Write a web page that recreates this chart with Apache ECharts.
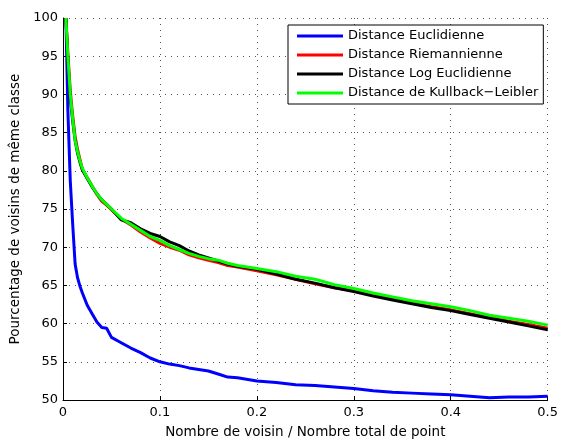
<!DOCTYPE html>
<html>
<head>
<meta charset="utf-8">
<script src="https://cdn.jsdelivr.net/npm/echarts@6/dist/echarts.min.js"></script>
<style>
  html, body { margin: 0; padding: 0; background: #fff; }
  #chart { width: 561px; height: 444px; }
</style>
</head>
<body>
<div id="chart"></div>
<script>
// fraction of neighbours (x) shared by all curves
var ratio = [0.003, 0.005, 0.0075, 0.01, 0.0125, 0.015, 0.0175, 0.02, 0.025, 0.03,
  0.035, 0.04, 0.045, 0.05, 0.06, 0.07, 0.08, 0.09, 0.1, 0.11,
  0.12, 0.13, 0.14, 0.15, 0.16, 0.17, 0.18, 0.2, 0.22, 0.24,
  0.26, 0.28, 0.3, 0.32, 0.34, 0.36, 0.38, 0.4, 0.42, 0.44,
  0.46, 0.48, 0.5];

var euclid = [100, 88, 78.7, 73, 67.8, 66, 64.9, 64.0, 62.4, 61.3,
  60.2, 59.5, 59.4, 58.2, 57.5, 56.8, 56.2, 55.5, 55.0, 54.7,
  54.5, 54.2, 54.0, 53.8, 53.4, 53.0, 52.9, 52.5, 52.3, 52.0,
  51.9, 51.7, 51.5, 51.2, 51.0, 50.9, 50.8, 50.7, 50.5, 50.3,
  50.4, 50.4, 50.5];

var riemann = [100, 95.5, 90.5, 87.2, 84.5, 82.8, 81.5, 80.2, 79.1, 78.0,
  76.9, 76.0, 75.5, 74.9, 73.7, 72.9, 72.0, 71.2, 70.5, 70.0,
  69.6, 69.0, 68.6, 68.3, 68.0, 67.6, 67.4, 66.9, 66.4, 65.8,
  65.2, 64.7, 64.3, 63.7, 63.2, 62.7, 62.2, 61.8, 61.3, 60.8,
  60.3, 59.9, 59.4];

var logEuclid = [100, 94.5, 89.5, 86.5, 84, 82.3, 81.1, 80.1, 79.0, 77.9,
  77.0, 76.2, 75.6, 75.0, 73.6, 73.2, 72.4, 71.8, 71.4, 70.7,
  70.2, 69.5, 69.0, 68.6, 68.2, 67.8, 67.5, 67.1, 66.5, 65.8,
  65.3, 64.7, 64.2, 63.6, 63.1, 62.6, 62.1, 61.7, 61.2, 60.7,
  60.2, 59.7, 59.2];

var kullback = [100, 95, 90, 86.8, 84, 82.5, 81.3, 80.3, 79.1, 78.0,
  77.0, 76.2, 75.6, 75.0, 73.8, 73.0, 72.2, 71.4, 70.9, 70.2,
  69.7, 69.2, 68.8, 68.5, 68.3, 67.9, 67.6, 67.2, 66.8, 66.2,
  65.8, 65.1, 64.6, 64.0, 63.5, 63.0, 62.6, 62.2, 61.7, 61.1,
  60.7, 60.3, 59.8];

var names = ["Distance Euclidienne", "Distance Riemannienne",
  "Distance Log Euclidienne", "Distance de Kullback\u2212Leibler"];
var colors = ["#0000ff", "#ff0000", "#000000", "#00ff00"];

function pairs(ys) {
  return ratio.map(function (x, i) { return [x, ys[i]]; });
}

var font = "'DejaVu Sans', sans-serif";
var chart = echarts.init(document.getElementById("chart"));

var series = [euclid, riemann, logEuclid, kullback].map(function (ys, i) {
  return {
    name: names[i],
    type: "line",
    data: pairs(ys),
    symbol: "none",
    lineStyle: { color: colors[i], width: 3 },
    itemStyle: { color: colors[i] },
    z: 2 + i
  };
});

chart.setOption({
  animation: false,
  backgroundColor: "#fff",
  grid: { left: 63, right: 10, top: 18, bottom: 41, containLabel: false },
  legend: {
    orient: "vertical",
    left: 288,
    top: 25,
    padding: [4, 5, 4, 9],
    itemGap: 5,
    itemWidth: 46,
    itemHeight: 3,
    icon: "rect",
    backgroundColor: "#fff",
    borderColor: "#000",
    borderWidth: 1,
    textStyle: { fontFamily: font, fontSize: 13, color: "#000", lineHeight: 14 },
    data: names
  },
  xAxis: {
    type: "value",
    min: 0,
    max: 0.5,
    interval: 0.1,
    name: "Nombre de voisin / Nombre total de point",
    nameLocation: "middle",
    nameGap: 25,
    nameTextStyle: { fontFamily: font, fontSize: 13.5, color: "#000" },
    axisLine: { show: true, lineStyle: { color: "#000", width: 1 } },
    axisTick: { show: true, inside: true, length: 4, lineStyle: { color: "#000" } },
    axisLabel: { fontFamily: font, fontSize: 13, color: "#000", margin: 6 },
    splitLine: { show: true, lineStyle: { color: "#555", type: [1, 5], width: 1 } }
  },
  yAxis: {
    type: "value",
    min: 50,
    max: 100,
    interval: 5,
    name: "Pourcentage de voisins de m\u00eame classe",
    nameLocation: "middle",
    nameGap: 33,
    nameTextStyle: { fontFamily: font, fontSize: 13.5, color: "#000" },
    axisLine: { show: true, lineStyle: { color: "#000", width: 1 } },
    axisTick: { show: true, inside: true, length: 4, lineStyle: { color: "#000" } },
    axisLabel: { fontFamily: font, fontSize: 13, color: "#000", margin: 5 },
    splitLine: { show: true, lineStyle: { color: "#555", type: [1, 5], width: 1 } }
  },
  series: series
});
</script>
</body>
</html>
